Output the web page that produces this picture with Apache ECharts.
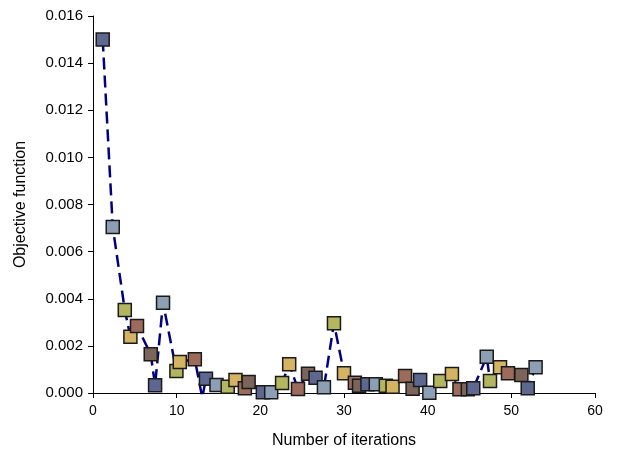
<!DOCTYPE html>
<html>
<head>
<meta charset="utf-8">
<script src="https://cdn.jsdelivr.net/npm/echarts@6/dist/echarts.min.js"></script>
<style>
html,body{margin:0;padding:0;background:#fff;}
#chart{width:634px;height:456px;}
</style>
</head>
<body>
<div id="chart"></div>
<script>
// Iteration positions (x)
const iterations = [1.16, 2.36, 3.8, 4.47, 5.26, 6.9, 7.42, 8.37, 9.97, 10.37,
  12.17, 13.06, 13.5, 14.76, 16.1, 17.03, 18.15, 18.6, 20.3, 21.3,
  22.6, 23.45, 24.5, 25.7, 26.6, 27.6, 28.8, 30.0, 31.3, 31.8,
  32.8, 33.8, 35.0, 35.8, 37.3, 38.2, 39.1, 40.2, 41.5, 42.9,
  43.8, 44.8, 45.45, 47.06, 47.45, 48.65, 49.6, 51.2, 51.96, 52.9];
// Objective function values
const objective = [0.0150, 0.00705, 0.00352, 0.00239, 0.00284, 0.00164, 0.00033, 0.00383, 0.00093, 0.00132,
  0.00143, -0.0002, 0.00061, 0.00034, 0.00027, 0.00055, 0.0002, 0.00047, 0.00003, 0.00003,
  0.00042, 0.00122, 0.00017, 0.00082, 0.00065, 0.00024, 0.00296, 0.00084, 0.00044, 0.00031,
  0.00037, 0.00037, 0.00031, 0.00027, 0.00072, 0.00018, 0.00055, 0.00001, 0.00051, 0.00081,
  0.00016, 0.00016, 0.0002, 0.00154, 0.00051, 0.00109, 0.00084, 0.00076, 0.0002, 0.00109];
const xTicks = [0, 10, 20, 30, 40, 50, 60];
const yTicks = [0, 0.002, 0.004, 0.006, 0.008, 0.010, 0.012, 0.014, 0.016];

const markerColors = ['#5d6790', '#8c9fb5', '#b3b65e', '#d4b462', '#9c6b5c', '#7b6459'];

const seriesData = iterations.map((x, i) => [x, objective[i]]);

const chart = echarts.init(document.getElementById('chart'), null, {renderer: 'canvas'});
const font = 'Liberation Sans, Arial, sans-serif';
chart.setOption({
  animation: false,
  backgroundColor: '#ffffff',
  grid: {left: 93, right: 39, top: 16, bottom: 63, containLabel: false},
  xAxis: {
    type: 'value',
    min: xTicks[0], max: xTicks[xTicks.length - 1], interval: 10,
    name: 'Number of iterations',
    nameLocation: 'middle', nameGap: 40,
    nameTextStyle: {fontFamily: font, fontSize: 16, color: '#000'},
    axisLine: {show: true, onZero: false, lineStyle: {color: '#000', width: 1}},
    axisTick: {show: true, inside: false, length: 5, lineStyle: {color: '#000'}},
    axisLabel: {fontFamily: font, fontSize: 14, color: '#000', margin: 11},
    splitLine: {show: false}
  },
  yAxis: {
    type: 'value',
    min: yTicks[0], max: yTicks[yTicks.length - 1], interval: 0.002,
    name: 'Objective function',
    nameLocation: 'middle', nameGap: 64,
    nameTextStyle: {fontFamily: font, fontSize: 16, color: '#000'},
    axisLine: {show: true, lineStyle: {color: '#000', width: 1}},
    axisTick: {show: true, inside: false, length: 5, lineStyle: {color: '#000'}},
    axisLabel: {fontFamily: font, fontSize: 15, color: '#000', margin: 10,
      formatter: v => v.toFixed(3)},
    splitLine: {show: false}
  },
  series: [{
    type: 'line',
    data: seriesData,
    clip: true,
    symbol: 'rect',
    symbolSize: 13,
    lineStyle: {color: '#000080', width: 2.5, type: [12, 6]},
    itemStyle: {
      color: p => markerColors[p.dataIndex % markerColors.length],
      borderColor: '#1a1a1a',
      borderWidth: 1.5
    },
    emphasis: {disabled: true}
  }]
});
</script>
</body>
</html>
